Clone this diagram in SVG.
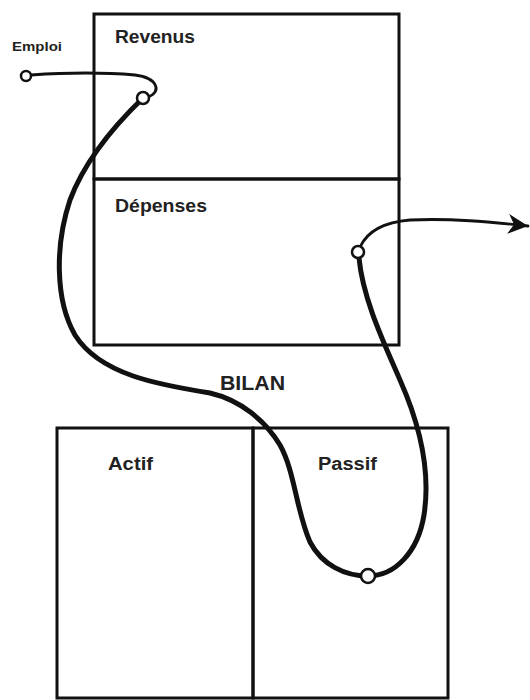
<svg xmlns="http://www.w3.org/2000/svg" width="530" height="700" viewBox="0 0 530 700">
<defs>
<style>
.box{fill:none;stroke:#111;stroke-width:3}
.lbl{font-family:"Liberation Sans",Arial,sans-serif;font-weight:bold;fill:#222}
.thin{fill:none;stroke:#111;stroke-width:2.8;stroke-linecap:round}
.thick{fill:none;stroke:#111;stroke-width:5;stroke-linecap:round}
.dot{fill:#fff;stroke:#111;stroke-width:2.5}
</style>
<marker id="arr" markerUnits="userSpaceOnUse" markerWidth="24" markerHeight="24" refX="20" refY="10" orient="auto">
<path d="M0,0 L20,10 L0,20 L6,10 Z" fill="#111"/>
</marker>
</defs>
<rect width="530" height="700" fill="#fff"/>
<g id="revenus">
<rect class="box" x="94" y="14" width="305" height="165"/>
<text class="lbl" x="115" y="43" font-size="18" textLength="80" lengthAdjust="spacingAndGlyphs">Revenus</text>
</g>
<g id="depenses">
<rect class="box" x="94" y="179" width="305" height="166"/>
<text class="lbl" x="115" y="212" font-size="18" textLength="92" lengthAdjust="spacingAndGlyphs">Dépenses</text>
</g>
<g id="bilan">
<text class="lbl" x="220" y="390" font-size="21" textLength="65" lengthAdjust="spacingAndGlyphs">BILAN</text>
</g>
<g id="actif">
<rect class="box" x="57" y="428" width="196" height="270"/>
<text class="lbl" x="108" y="470" font-size="18" textLength="45" lengthAdjust="spacingAndGlyphs">Actif</text>
</g>
<g id="passif">
<rect class="box" x="253" y="428" width="195" height="270"/>
<text class="lbl" x="318" y="470" font-size="18" textLength="59" lengthAdjust="spacingAndGlyphs">Passif</text>
</g>
<g id="emploi">
<text class="lbl" x="12" y="51" font-size="13" textLength="50" lengthAdjust="spacingAndGlyphs">Emploi</text>
</g>
<g id="connectors">
<path class="thin" d="M31,75 C60,73 100,72 135,75 C158,78 162,92 148,97"/>
<path class="thick" d="M143,98 C115,125 85,160 70,200 C55,245 55,300 75,335 C100,375 160,385 210,393 C240,400 265,420 280,445 C295,472 296,510 310,542 C322,565 345,576 368,576 C395,576 418,552 424,515 C431,470 420,425 400,380 C385,345 363,300 359,258"/>
<path class="thin" d="M360,247 C368,230 385,222 410,220 C450,218 490,222 528,226" marker-end="url(#arr)"/>
<circle class="dot" cx="26" cy="76" r="5"/>
<circle class="dot" cx="143" cy="98" r="6"/>
<circle class="dot" cx="358" cy="252" r="6"/>
<circle class="dot" cx="368" cy="576" r="7"/>
</g>
</svg>
